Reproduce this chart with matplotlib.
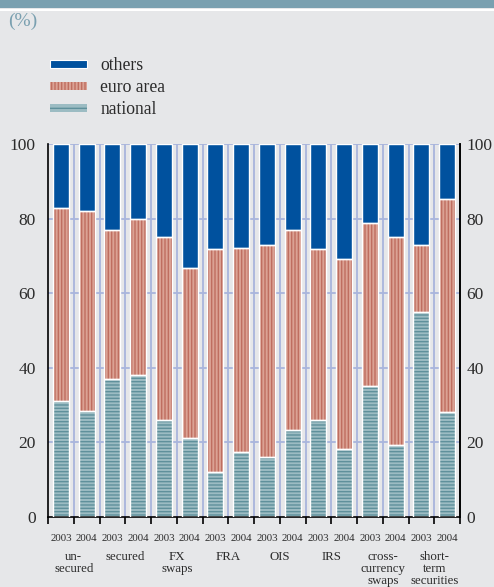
import matplotlib
matplotlib.use("Agg")
import matplotlib.pyplot as plt
import numpy as np
from matplotlib.patches import Patch

years = ["2003", "2004"] * 8
categories = ["un-\nsecured", "secured", "FX\nswaps", "FRA", "OIS", "IRS",
              "cross-\ncurrency\nswaps", "short-\nterm\nsecurities"]
national = [31.1, 28.5, 37.0, 38.1, 26.0, 21.2, 12.1, 17.5,
            16.1, 23.3, 26.0, 18.2, 35.1, 19.3, 55.0, 28.2]
euro_cum = [82.9, 82.0, 77.0, 79.9, 75.0, 66.8, 71.9, 72.0,
            72.8, 77.0, 71.9, 69.2, 78.8, 75.2, 72.8, 85.2]
euro_area = [e - n for e, n in zip(euro_cum, national)]
others = [100 - e for e in euro_cum]
yticks = [0, 20, 40, 60, 80, 100]

BG = "#e6e7e9"
C_OTH = "#00519e"
C_EUR = "#dba294"
C_EUR_H = "#bf6e60"
C_NAT = "#9cbcc3"
C_NAT_H = "#5f909b"
GRID = "#a9b5dc"
TXT = "#2b2b2b"
SERIF = ["Liberation Serif", "DejaVu Serif"]

plt.rcParams["font.family"] = SERIF
plt.rcParams["hatch.linewidth"] = 1.0

fig = plt.figure(figsize=(4.94, 5.87), dpi=100, facecolor=BG)
fig.patches.append(plt.Rectangle((0, 1 - 8 / 587), 1, 8 / 587, transform=fig.transFigure,
                                 facecolor="#7aa0b0", edgecolor="none"))
fig.patches.append(plt.Rectangle((0, 1 - 11 / 587), 1, 2.5 / 587, transform=fig.transFigure,
                                 facecolor="white", edgecolor="none"))
fig.text(8 / 494, 1 - 21 / 587, "(%)", color="#7aa0b0", fontsize=14, va="center", ha="left")

ax = fig.add_axes([48 / 494, 1 - 517 / 587, 412 / 494, 373 / 587])
ax.set_facecolor(BG)
x = np.arange(len(national))
w = 0.62

for yv in yticks[1:]:
    ax.axhline(yv, color=GRID, lw=1.3, zorder=0)
for b in np.arange(0.5, len(national) - 0.5, 1.0):
    ax.axvline(b, color=GRID, lw=1.3, zorder=0)

ax.bar(x, national, w, color=C_NAT, edgecolor=C_NAT_H, hatch="-----", lw=0, zorder=2)
ax.bar(x, euro_area, w, bottom=national, color=C_EUR, edgecolor=C_EUR_H, hatch="|||||", lw=0, zorder=2)
ax.bar(x, others, w, bottom=euro_cum, color=C_OTH, lw=0, zorder=2)
ax.bar(x, national, w, fill=False, edgecolor="white", lw=1.0, zorder=3)
ax.bar(x, euro_area, w, bottom=national, fill=False, edgecolor="white", lw=1.0, zorder=3)
ax.bar(x, others, w, bottom=euro_cum, fill=False, edgecolor="white", lw=1.0, zorder=3)

ax.set_xlim(-0.5, len(national) - 0.5)
ax.set_ylim(0, 100)
ax.spines["top"].set_visible(False)
for s in ["left", "right", "bottom"]:
    ax.spines[s].set_color("black")
    ax.spines[s].set_linewidth(1.2)

ax.set_yticks(yticks)
ax.tick_params(axis="y", which="both", length=0, labelsize=12.5, labelcolor=TXT,
               left=False, right=False, labelleft=True, labelright=False, pad=9)
sec = ax.secondary_yaxis("right")
sec.set_yticks(yticks)
sec.tick_params(axis="y", length=0, labelsize=12.5, labelcolor=TXT, pad=4.5)
sec.spines["right"].set_color("black")
sec.spines["right"].set_linewidth(1.2)

ax.set_xticks(np.arange(-0.5, len(national), 1.0))
ax.set_xticklabels([])
ax.tick_params(axis="x", direction="out", length=5, width=1.2, color="black")

for i, yr in enumerate(years):
    ax.text(i, -5.7, yr, ha="center", va="center", fontsize=7.8, color=TXT, clip_on=False)
for g, cat in enumerate(categories):
    ax.text(2 * g + 0.5, -9.1, cat, ha="center", va="top", fontsize=9.3, color=TXT,
            linespacing=1.0, clip_on=False)

handles = [Patch(facecolor=C_OTH, edgecolor="white", lw=0.8),
           Patch(facecolor=C_EUR, edgecolor=C_EUR_H, hatch="|||||", lw=0),
           Patch(facecolor=C_NAT, edgecolor=C_NAT_H, hatch="---", lw=0)]
fig.legend(handles, ["others", "euro area", "national"],
           loc="upper left", bbox_to_anchor=(50 / 494, 1 - 57 / 587),
           frameon=False, fontsize=12.7, handlelength=2.1, handleheight=0.35,
           handletextpad=0.74, labelspacing=0.29, borderpad=0, borderaxespad=0,
           labelcolor=TXT)

fig.savefig("out.png", dpi=100, facecolor=BG)
